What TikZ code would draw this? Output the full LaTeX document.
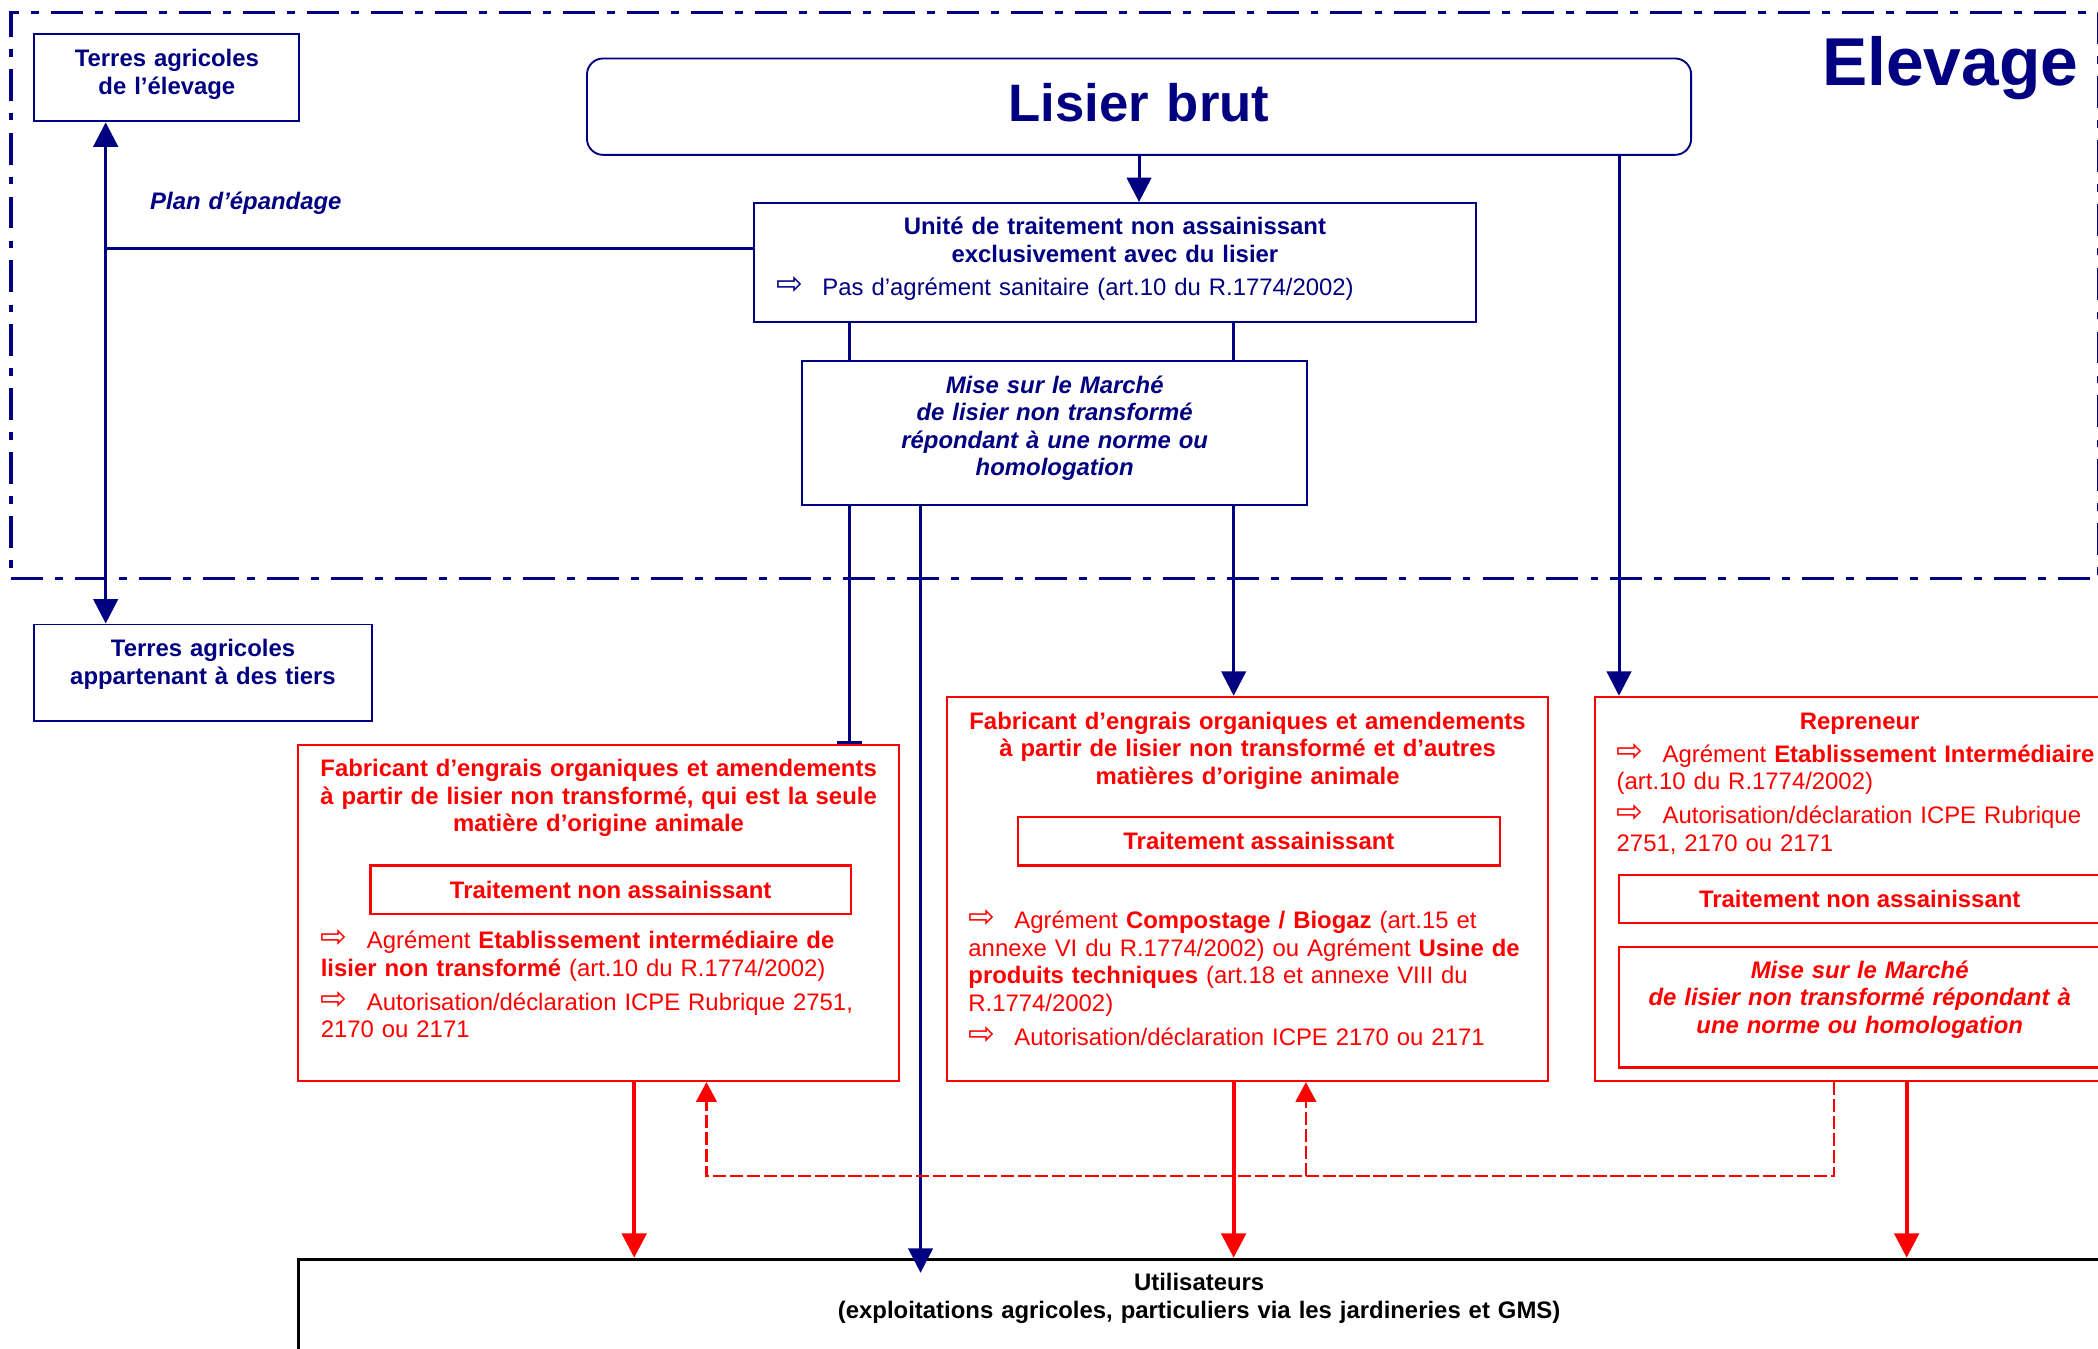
\documentclass[tikz,border=0pt]{standalone}
\usepackage{fontspec}
\setmainfont{Liberation Sans}
\newfontfamily\flechefont{DejaVu Sans}
\usepackage{tikz}
\usetikzlibrary{positioning}
\usetikzlibrary{arrows.meta}
\usetikzlibrary{calc}
\definecolor{bleuElev}{RGB}{0,0,128}
\definecolor{rougeFab}{RGB}{255,0,0}
\newcommand{\taille}{\fontsize{12.7pt}{14.6pt}\selectfont}
\newcommand{\puce}{\makebox[0.86cm][l]{\raisebox{0.5pt}{\flechefont\fontsize{17pt}{17pt}\selectfont ⇨}}}
\tikzset{zone/.style={draw=bleuElev,line width=1.9pt,dash pattern=on 17pt off 6.4pt on 4.2pt off 6.4pt,inner sep=0pt,anchor=north west},
  bleu box/.style={draw=bleuElev,line width=1pt,inner sep=0pt,anchor=north west},
  rouge box/.style={draw=rougeFab,line width=1.2pt,inner sep=0pt,anchor=north west,text=rougeFab,font=\taille\bfseries},
  titre/.style={inner sep=0pt,anchor=base,align=center,text width=15cm,font=\taille\bfseries},
  titre bleu/.style={titre,text=bleuElev},
  titre rouge/.style={titre,text=rougeFab},
  puce rouge/.style={inner sep=0pt,anchor=base west,align=left,text width=11cm,font=\taille,text=rougeFab},
  puce bleu/.style={puce rouge,text=bleuElev},
  fil bleu/.style={draw=bleuElev,line width=1.6pt},
  fil rouge/.style={draw=rougeFab,line width=2.2pt},
  retour rouge/.style={draw=rougeFab,line width=1.1pt,dash pattern=on 7pt off 2pt},
}

\begin{document}
\begin{tikzpicture}[x=0.025cm,y=-0.025cm,>={Triangle[length=13pt,width=13pt]}]
	\useasboundingbox (0,0) rectangle (1568,1008);
	\clip (0,0) rectangle (1568,1008);

	\node[zone,minimum width=39cm,minimum height=10.575cm] (zone) at (7,8) {};
	\node[titre bleu,font=\fontsize{36pt}{40pt}\selectfont\bfseries] (elevage) at (1457.5,64) {Elevage};

	\node[bleu box,minimum width=4.95cm,minimum height=1.625cm] (terresElev) at (25,25) {};
	\node[titre bleu] (terresElevT) at ($(terresElev.north)+(0,25)$) {Terres agricoles\\de l’élevage};
	\node[bleu box,rounded corners=0.3cm,minimum width=20.625cm,minimum height=1.8cm] (lisier) at (438,43) {};
	\node[titre bleu,font=\fontsize{28pt}{32pt}\selectfont\bfseries] (lisierT) at ($(lisier.north)+(0,48)$) {Lisier brut};
	\node[bleu box,minimum width=13.475cm,minimum height=2.225cm] (unite) at (563,151) {};
	\node[titre bleu] (uniteT) at ($(unite.north)+(0,24.6)$) {Unité de traitement non assainissant\\exclusivement avec du lisier};
	\node[puce bleu] (uniteP) at ($(unite.north west)+(17,70)$) {\puce Pas d’agrément sanitaire (art.10 du R.1774/2002)};
	\node[puce bleu,font=\taille\bfseries\itshape] (plan) at (112,156.5) {Plan d’épandage};
	\node[bleu box,minimum width=9.425cm,minimum height=2.7cm] (mise) at (599,269) {};
	\node[titre bleu,font=\taille\bfseries\itshape] (miseT) at ($(mise.north)+(0,25)$) {Mise sur le Marché\\de lisier non transformé\\répondant à une norme ou\\homologation};
	\node[bleu box,minimum width=6.3cm,minimum height=1.8cm] (terresTiers) at (25,466) {};
	\node[titre bleu] (terresTiersT) at ($(terresTiers.north)+(0,25)$) {Terres agricoles\\appartenant à des tiers};

	\node[rouge box,minimum width=11.225cm,minimum height=6.275cm] (fab1) at (222,556) {};
	\node[titre rouge] (fab1T) at ($(fab1.north)+(0,24.5)$) {Fabricant d’engrais organiques et amendements\\à partir de lisier non transformé, qui est la seule\\matière d’origine animale};
	\node[rouge box,minimum width=8.975cm,minimum height=0.9cm] (ttt1) at (276,646) {Traitement non assainissant};
	\node[puce rouge] (fab1P) at ($(fab1.north west)+(17.5,153)$) {\puce Agrément \textbf{Etablissement intermédiaire de}\\\textbf{lisier non transformé} (art.10 du R.1774/2002)\\[3.5pt]\puce Autorisation/déclaration ICPE Rubrique 2751,\\2170 ou 2171};

	\node[rouge box,minimum width=11.225cm,minimum height=7.175cm] (fab2) at (707,520) {};
	\node[titre rouge] (fab2T) at ($(fab2.north)+(0,25)$) {Fabricant d’engrais organiques et amendements\\à partir de lisier non transformé et d’autres\\matières d’origine animale};
	\node[rouge box,minimum width=9cm,minimum height=0.9cm] (ttt2) at (760,610) {Traitement assainissant};
	\node[puce rouge] (fab2P) at ($(fab2.north west)+(16.5,174)$) {\puce Agrément \textbf{Compostage / Biogaz} (art.15 et\\annexe VI du R.1774/2002) ou Agrément \textbf{Usine de}\\\textbf{produits techniques} (art.18 et annexe VIII du\\R.1774/2002)\\[3.5pt]\puce Autorisation/déclaration ICPE 2170 ou 2171};

	\node[rouge box,minimum width=9.9cm,minimum height=7.175cm] (repreneur) at (1191,520) {};
	\node[titre rouge] (repreneurT) at ($(repreneur.north)+(0,25)$) {Repreneur};
	\node[puce rouge] (repreneurP) at ($(repreneur.north west)+(17,49.5)$) {\puce Agrément \textbf{Etablissement Intermédiaire}\\(art.10 du R.1774/2002)\\[3.5pt]\puce Autorisation/déclaration ICPE Rubrique\\2751, 2170 ou 2171};
	\node[rouge box,minimum width=9cm,minimum height=0.9cm] (ttt3) at (1209,653) {Traitement non assainissant};
	\node[rouge box,minimum width=9cm,minimum height=2.25cm] (mise3) at (1209,707) {};
	\node[titre rouge,font=\taille\bfseries\itshape] (mise3T) at ($(mise3.north)+(0,24)$) {Mise sur le Marché\\de lisier non transformé répondant à\\une norme ou homologation};

	\node[draw=black,line width=1.5pt,inner sep=0pt,anchor=north west,minimum width=33.65cm,minimum height=2.5cm] (users) at (222,940) {};
	\node[titre] (usersT) at ($(users.north)+(0,24.7)$) {Utilisateurs\\(exploitations agricoles, particuliers via les jardineries et GMS)};

	\coordinate (epandage) at (79,186);
	\coordinate (vFab1) at (635,0);
	\coordinate (vUsers) at (688,0);
	\coordinate (vFab2) at (922,0);
	\coordinate (vRep) at (1210,0);
	\coordinate (rFab1) at (474,0);
	\coordinate (rRep) at (1425,0);
	\coordinate (retour) at (1371,879);
	\coordinate (rtFab1) at (528,0);
	\coordinate (rtFab2) at (976,0);

	\path
	(lisier.south) edge[fil bleu,->] (lisier.south |- unite.north)
	(epandage |- terresElev.south) edge[fil bleu,<->] (epandage |- terresTiers.north)
	(unite.west |- epandage) edge[fil bleu] (epandage)
	(vFab1 |- unite.south) edge[fil bleu] (vFab1 |- mise.north)
	(vFab2 |- unite.south) edge[fil bleu] (vFab2 |- mise.north)
	(vFab1 |- mise.south) edge[fil bleu,-{Bar[width=13pt]}] (vFab1 |- fab1.north)
	(vUsers |- mise.south) edge[fil bleu,->,shorten >=-8pt] (vUsers |- users.north)
	(vFab2 |- mise.south) edge[fil bleu,->] (vFab2 |- fab2.north)
	(vRep |- lisier.south) edge[fil bleu,->] (vRep |- repreneur.north)
	(rFab1 |- fab1.south) edge[fil rouge,->] (rFab1 |- users.north)
	(vFab2 |- fab2.south) edge[fil rouge,->] (vFab2 |- users.north)
	(rRep |- repreneur.south) edge[fil rouge,->] (rRep |- users.north);
	\draw[retour rouge,-{Triangle[length=10.5pt,width=11pt]}] (retour |- repreneur.south) -- (retour) -- (retour -| rtFab1) -- (rtFab1 |- fab1.south);
	\draw[retour rouge,-{Triangle[length=10.5pt,width=11pt]}] (retour -| rtFab2) -- (rtFab2 |- fab2.south);
\end{tikzpicture}
\end{document}
